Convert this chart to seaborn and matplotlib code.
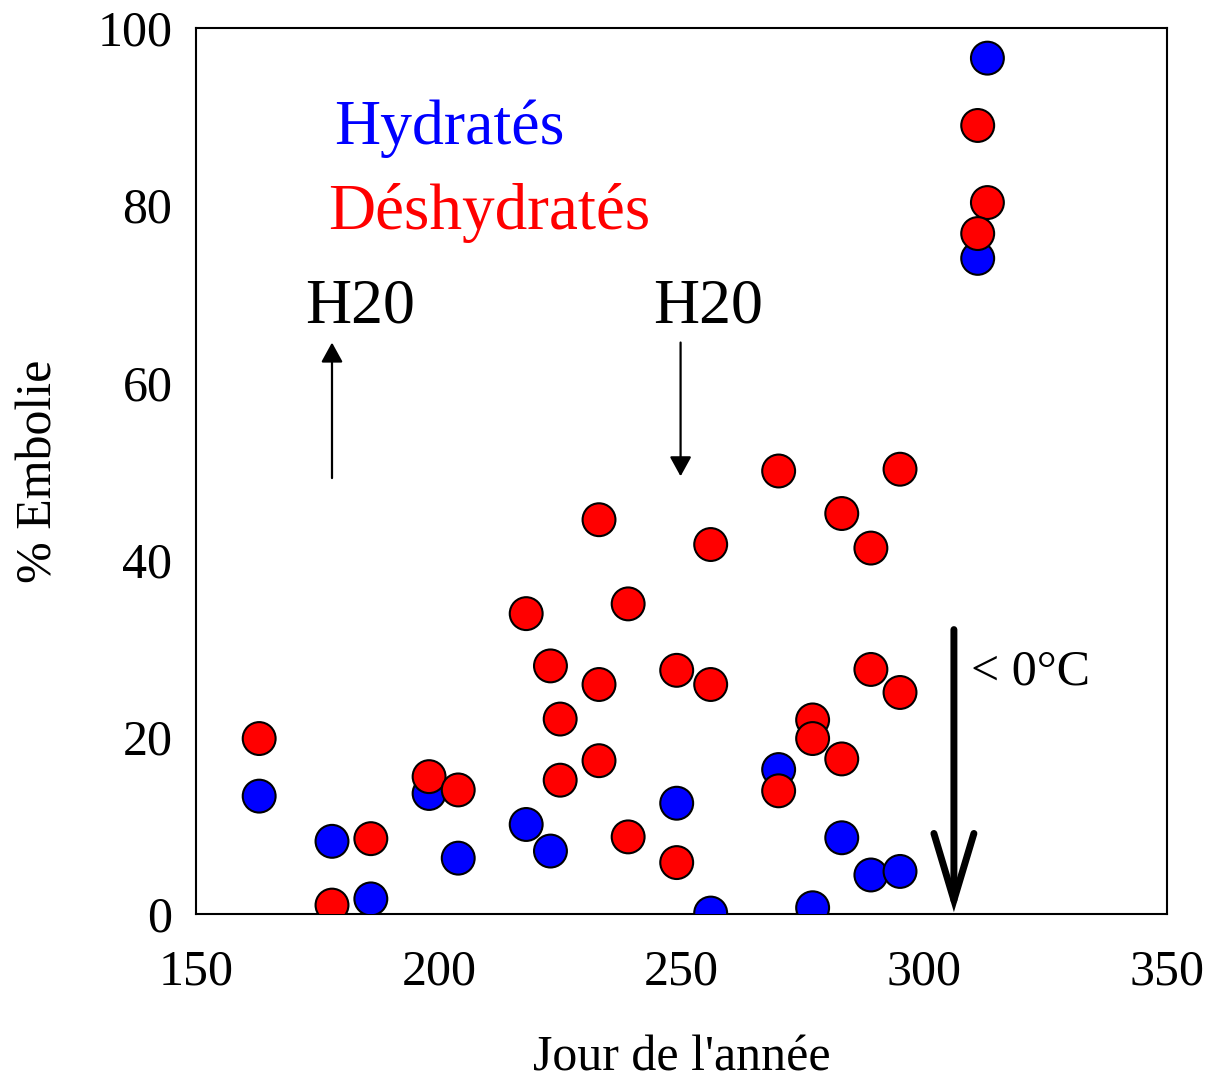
import numpy as np
import pandas as pd
import matplotlib
import matplotlib.pyplot as plt
import seaborn as sns

# jour de l'annee et % embolie
jour_hydr = [163, 178, 186, 198, 204, 218, 223, 249, 256, 270, 277, 283, 289, 295, 311, 313]
emb_hydr = [13.3, 8.2, 1.7, 13.6, 6.3, 10.1, 7.1, 12.5, 0.1, 16.3, 0.7, 8.6, 4.4, 4.8, 74.0, 96.6]

jour_desh = [163, 178, 186, 198, 204, 218, 223, 225, 225, 233, 233, 233, 239, 239, 249, 249,
             256, 256, 270, 270, 277, 277, 283, 283, 289, 289, 295, 295, 311, 313, 311]
emb_desh = [19.8, 1.0, 8.5, 15.5, 14.0, 33.9, 28.0, 22.0, 15.1, 44.5, 25.9, 17.3, 35.0, 8.7, 27.5, 5.8,
            41.7, 25.9, 50.0, 13.9, 21.9, 19.8, 45.2, 17.5, 41.3, 27.6, 50.2, 25.0, 89.0, 80.3, 76.8]

groupes = ['Hydratés', 'Déshydratés']
couleurs = {'Hydratés': 'blue', 'Déshydratés': 'red'}

df = pd.concat([
    pd.DataFrame({'jour': jour_hydr, 'embolie': emb_hydr, 'groupe': 'Hydratés'}),
    pd.DataFrame({'jour': jour_desh, 'embolie': emb_desh, 'groupe': 'Déshydratés'}),
], ignore_index=True)

sns.set_style('white')
plt.rcParams['font.family'] = ['Liberation Serif', 'DejaVu Serif']
plt.rcParams['text.color'] = 'black'
plt.rcParams['axes.labelcolor'] = 'black'
plt.rcParams['axes.linewidth'] = 1.5

fig = plt.figure(figsize=(12.11, 10.82), dpi=100)
ax = fig.add_axes([0.1619, 0.1553, 0.8018, 0.8188])

sns.scatterplot(data=df, x='jour', y='embolie', hue='groupe', hue_order=groupes,
                palette=couleurs, s=560, edgecolor='black', linewidth=1.5,
                alpha=1, legend=False, ax=ax, zorder=3)

ax.set_xlim(150, 350)
ax.set_ylim(0, 100)
ax.set_xticks([150, 200, 250, 300, 350])
ax.set_yticks([0, 20, 40, 60, 80, 100])
ax.tick_params(direction='in', length=19, width=1.2, labelsize=36, colors='black')
ax.tick_params(axis='x', pad=25)
ax.tick_params(axis='y', pad=17)
for sp in ax.spines.values():
    sp.set_color('black')
    sp.set_linewidth(1.5)

ax.set_xlabel("Jour de l'année", fontsize=36, labelpad=29)
ax.set_ylabel('% Embolie', fontsize=36, labelpad=25)

ax.text(178.5, 88.6, 'Hydratés', color='blue', fontsize=46, va='center', ha='left')
ax.text(177.3, 79.1, 'Déshydratés', color='red', fontsize=47, va='center', ha='left')
ax.text(172.5, 68.5, 'H20', fontsize=46, va='center', ha='left')
ax.text(244.2, 68.5, 'H20', fontsize=46, va='center', ha='left')
ax.text(309.6, 27.3, '< 0°C', fontsize=36, va='center', ha='left')

fleche_fine = dict(arrowstyle='-|>,head_length=0.6,head_width=0.33', lw=1.6,
                   color='black', mutation_scale=20, shrinkA=0, shrinkB=0)
ax.annotate('', xy=(178, 64.5), xytext=(178, 49.2), arrowprops=fleche_fine)
ax.annotate('', xy=(249.8, 49.4), xytext=(249.8, 64.5), arrowprops=fleche_fine)
ax.annotate('', xy=(306.1, 0.2), xytext=(306.1, 32.1),
            arrowprops=dict(arrowstyle='->,head_length=0.8,head_width=0.24', lw=5,
                            color='black', mutation_scale=60, shrinkA=0, shrinkB=0,
                            capstyle='round', joinstyle='miter'))

fig.savefig('out.png', dpi=100)
